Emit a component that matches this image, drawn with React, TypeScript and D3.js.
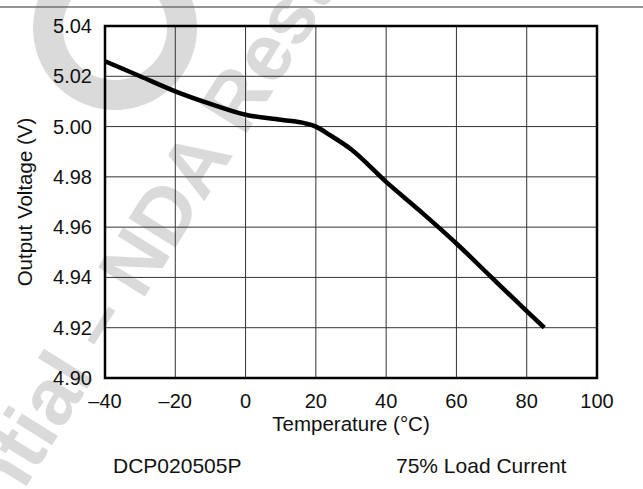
import React from "react";
import * as d3 from "d3";

const temps = [-40, -30, -20, -10, 0, 10, 17, 20, 24, 30, 40, 50, 60, 70, 80, 85];
const volts = [5.026, 5.02, 5.014, 5.009, 5.0047, 5.0027, 5.0013, 5.0, 4.9966, 4.991, 4.978, 4.966, 4.9535, 4.94, 4.9266, 4.92];
const xTicks = [-40, -20, 0, 20, 40, 60, 80, 100];
const yTicks = [4.9, 4.92, 4.94, 4.96, 4.98, 5.0, 5.02, 5.04];
const xTitle = "Temperature (°C)";
const yTitle = "Output Voltage (V)";
const noteLeft = "DCP020505P";
const noteRight = "75% Load Current";
const markLeft = "Confidential \u2013";
const markRight = "NDA Restricted";

const W = 643;
const H = 489;
const L = 105, R = 597, T = 26, B = 378;
const FONT = "'Liberation Sans', Arial, Helvetica, sans-serif";

export default function App() {
  const x = d3.scaleLinear().domain([-40, 100]).range([L, R]);
  const y = d3.scaleLinear().domain([4.9, 5.04]).range([B, T]);
  const line = d3
    .line<number>()
    .x((_, i) => x(temps[i]))
    .y((v) => y(v))
    .curve(d3.curveMonotoneX);
  const fmtX = (v: number) => (v < 0 ? "\u2013" + Math.abs(v) : String(v));
  const fmtY = d3.format(".2f");

  return (
    <svg
      width={W}
      height={H}
      style={{ position: "absolute", left: 0, top: 0, background: "#fff" }}
      fontFamily={FONT}
    >
      <rect x={0} y={0} width={W} height={H} fill="#fff" />
      {/* watermark */}
      <g fill="#dadada">
        <circle cx={115} cy={28} r={67} fill="none" stroke="#dadada" strokeWidth={30} />
        <g transform="translate(142,301) rotate(-58)">
          <text x={0} y={0} fontSize={80} fontWeight="bold">{markRight}</text>
          <text x={-20} y={0} fontSize={80} fontWeight="bold" textAnchor="end">{markLeft}</text>
        </g>
      </g>
      <line x1={0} x2={W} y1={7} y2={7} stroke="#707070" strokeWidth={1.5} />
      {/* grid */}
      <g stroke="#333" strokeWidth={1}>
        {xTicks.slice(1, -1).map((t) => (
          <line key={"gx" + t} x1={x(t)} x2={x(t)} y1={T} y2={B} />
        ))}
        {yTicks.slice(1, -1).map((t) => (
          <line key={"gy" + t} x1={L} x2={R} y1={y(t)} y2={y(t)} />
        ))}
      </g>
      <path d={line(volts) || ""} fill="none" stroke="#000" strokeWidth={4.5} strokeLinejoin="round" />
      <rect x={L} y={T} width={R - L} height={B - T} fill="none" stroke="#000" strokeWidth={2.5} />
      {/* y tick labels */}
      <g fontSize={20} fill="#111" textAnchor="end">
        {yTicks.map((t) => (
          <text key={"yl" + t} x={92} y={y(t) + 7}>{fmtY(t)}</text>
        ))}
      </g>
      <g fontSize={20} fill="#111" textAnchor="middle">
        {xTicks.map((t) => (
          <text key={"xl" + t} x={x(t)} y={408}>{fmtX(t)}</text>
        ))}
      </g>
      <text x={(L + R) / 2} y={431} fontSize={20.5} textAnchor="middle" fill="#111">{xTitle}</text>
      <text transform={`translate(32,${(T + B) / 2}) rotate(-90)`} fontSize={20.5} textAnchor="middle" fill="#111">{yTitle}</text>
      <text x={113} y={473} fontSize={21} fill="#111">{noteLeft}</text>
      <text x={396} y={473} fontSize={21} fill="#111">{noteRight}</text>
    </svg>
  );
}
